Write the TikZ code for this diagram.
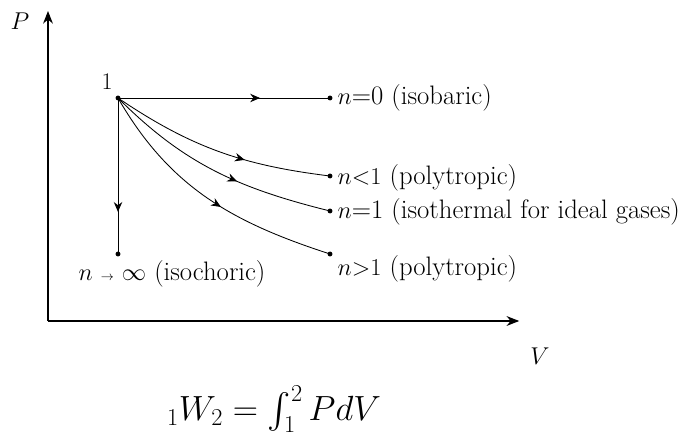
\documentclass[tikz,border=0pt]{standalone}
\usepackage{fontspec}
\usepackage{exscale}
\usetikzlibrary{arrows.meta,decorations.markings}

\tikzset{
  enddot/.style={circle, fill, inner sep=0pt, minimum size=3.5pt},
  midarrow/.style={postaction={decorate},
    decoration={markings, mark=at position #1 with {\arrow{Stealth[length=7pt, width=6pt]}}}},
  caselabel/.style={anchor=west, inner sep=1pt, font=\fontsize{19}{22}\selectfont},
  axislabel/.style={font=\fontsize{17}{20}\selectfont},
}

\begin{document}
\begin{tikzpicture}
    \useasboundingbox (0,0) rectangle (17.1,11.025);

    % Axes
    \coordinate (O) at (1.2,3.0);
    \coordinate (Ptop) at (1.2,10.75);
    \coordinate (Vend) at (12.98,3.0);
    \draw[line width=0.8pt, -{Stealth[length=9pt, width=7pt]}] (O) -- (Ptop);
    \draw[line width=0.8pt, -{Stealth[length=9pt, width=7pt]}] (O) -- (Vend);
    \node[axislabel] (Plab) at (0.5,10.5) {$P$};
    \node[axislabel] (Vlab) at (13.5,2.12) {$V$};

    % State 1 and end states
    \node[enddot] (s1) at (2.95,8.575) {};
    \node[font=\fontsize{17}{20}\selectfont] (one) at (2.68,8.98) {1};
    \node[enddot] (e0)   at (8.25,8.575) {};
    \node[enddot] (elt)  at (8.25,6.625) {};
    \node[enddot] (eeq)  at (8.25,5.75) {};
    \node[enddot] (egt)  at (8.25,4.675) {};
    \node[enddot] (einf) at (2.95,4.675) {};

    % Processes
    \draw[line width=0.6pt, midarrow=0.67] (s1.center) -- (e0.center);
    \draw[line width=0.6pt, midarrow=0.73] (s1.center) -- (einf.center);
    \draw[line width=0.6pt, midarrow=0.62] (s1.center) to[out=-34, in=173] (elt.center);
    \draw[line width=0.6pt, midarrow=0.6] (s1.center) to[out=-45, in=166] (eeq.center);
    \draw[line width=0.6pt, midarrow=0.56] (s1.center) to[out=-60, in=162] (egt.center);

    % Labels
    \node[caselabel] (t0)  at (8.4,8.575) {$n$=0 (isobaric)};
    \node[caselabel] (tlt) at (8.4,6.575) {$n{<}1$ (polytropic)};
    \node[caselabel] (teq) at (8.4,5.72) {$n$=1 (isothermal for ideal gases)};
    \node[caselabel] (tgt) at (8.4,4.3) {$n{>}1$ (polytropic)};
    \node[font=\fontsize{19}{22}\selectfont] (tinf) at (4.3,4.18) {$n\ {\scriptscriptstyle\to}\ \infty$ (isochoric)};

    % Work
    \node[font=\fontsize{23}{27}\selectfont] (work) at (6.85,0.8) {${}_1W_2=\int_1^2PdV$};
\end{tikzpicture}
\end{document}
